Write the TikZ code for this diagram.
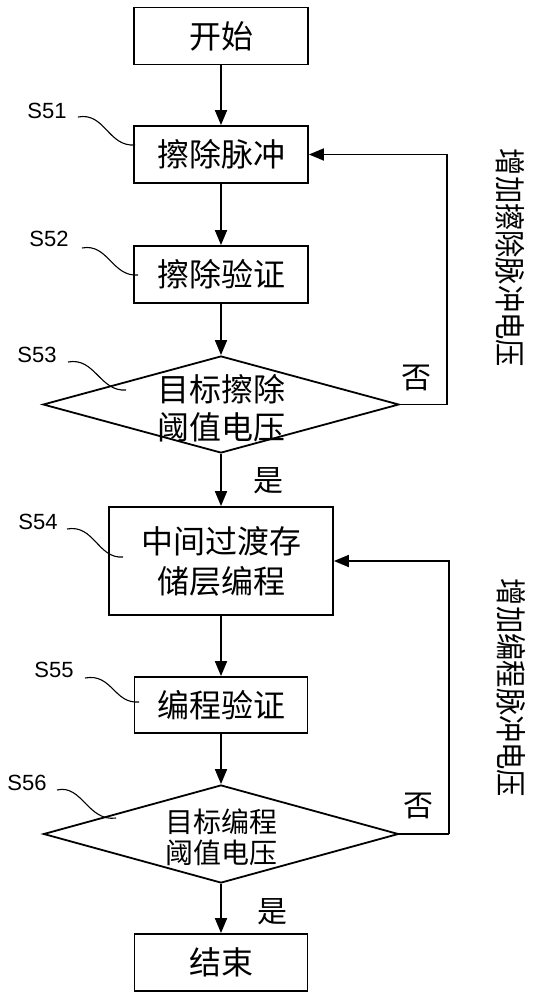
\documentclass[tikz,border=0pt]{standalone}
\usepackage{fontspec}
\setmainfont{Liberation Sans}
\newfontfamily\cjk{Noto Sans CJK SC}
\usetikzlibrary{arrows.meta,shapes.geometric}
\tikzset{
  box/.style={draw, line width=1.8pt, inner sep=0pt, minimum width=174pt, minimum height=57pt,
    font=\cjk\fontsize{32}{38}\selectfont, align=center},
  dia/.style={draw, diamond, line width=1.8pt, inner sep=0pt, aspect=3.6},
  flow/.style={line width=1.8pt, -{Triangle[length=15pt,width=12pt]}},
  fb/.style={line width=1.8pt},
  yn/.style={font=\cjk\fontsize{30}{36}\selectfont, inner sep=0pt},
  side/.style={font=\cjk\fontsize{31}{34}\selectfont, inner sep=0pt, rotate=-90, xscale=0.88},
  slabel/.style={font=\fontsize{22}{26}\selectfont, inner sep=1pt},
  wave/.style={line width=1.1pt}
}
\begin{document}
\begin{tikzpicture}[x=1pt,y=-1pt]
\useasboundingbox (0,0) rectangle (535,1000);
% boxes
\node[box] (b0) at (221,36) {开始};
\node[box] (b1) at (221,154.5) {擦除脉冲};
\node[box] (b2) at (221,274.5) {擦除验证};
\node[dia, minimum width=356pt, minimum height=97pt] (d1) at (221,404.5) {};
\node[font=\cjk\fontsize{32}{38}\selectfont, align=center, inner sep=0pt] (d1t) at (221,408) {目标擦除\\阈值电压};
\node[box, minimum width=224pt, minimum height=108pt, font=\cjk\fontsize{32}{40}\selectfont] (b4) at (221,561) {中间过渡存\\储层编程};
\node[box, minimum width=173pt, minimum height=56pt] (b5) at (221,705) {编程验证};
\node[dia, minimum width=355pt, minimum height=98pt] (d2) at (221,834) {};
\node[font=\cjk\fontsize{28}{31}\selectfont, align=center, inner sep=0pt] (d2t) at (221,837) {目标编程\\阈值电压};
\node[box, minimum width=173pt, minimum height=57pt] (b7) at (221,962.5) {结束};
% main flow
\draw[flow] (b0.south) -- (b1.north);
\draw[flow] (b1.south) -- (b2.north);
\draw[flow] (b2.south) -- (d1.north);
\draw[flow] (d1.south) -- (b4.north);
\draw[flow] (b4.south) -- (b5.north);
\draw[flow] (b5.south) -- (d2.north);
\draw[flow] (d2.south) -- (b7.north);
% feedback loops
\coordinate (c1) at (447,404.5);
\coordinate (c2) at (449,834);
\draw[fb] (d1.east) -- (c1);
\draw[flow] (c1) |- (b1.east);
\draw[fb] (d2.east) -- (c2);
\draw[flow] (c2) |- (b4.east);
% yes / no
\node[yn] (n1) at (416,378) {否};
\node[yn] (y1) at (268,481) {是};
\node[yn] (n2) at (418,806) {否};
\node[yn] (y2) at (272,912) {是};
% side labels
\node[side] (s1) at (510,258) {增加擦除脉冲电压};
\node[side] (s2) at (511,688) {增加编程脉冲电压};
% step labels
\node[slabel] (l1) at (47,111) {S51};
\node[slabel] (l2) at (49,239) {S52};
\node[slabel] (l3) at (37,355) {S53};
\node[slabel] (l4) at (38,522) {S54};
\node[slabel] (l5) at (54,670) {S55};
\node[slabel] (l6) at (27,783) {S56};
\coordinate (e1) at (135,145);
\coordinate (e2) at (138,275);
\coordinate (e3) at (126,390);
\coordinate (e4) at (123,557);
\coordinate (e5) at (139,702);
\coordinate (e6) at (116,818);
\draw[wave] (78,117) .. controls (105,112) and (108,147) .. (e1);
\draw[wave] (82,248) .. controls (108,243) and (112,277) .. (e2);
\draw[wave] (68,362) .. controls (95,357) and (100,392) .. (e3);
\draw[wave] (67,529) .. controls (94,524) and (98,559) .. (e4);
\draw[wave] (85,678) .. controls (112,673) and (114,704) .. (e5);
\draw[wave] (57,790) .. controls (82,784) and (88,822) .. (e6);
\end{tikzpicture}
\end{document}
